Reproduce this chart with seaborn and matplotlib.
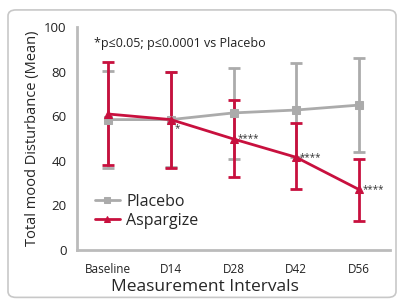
import matplotlib
matplotlib.use("Agg")
import matplotlib.pyplot as plt
import seaborn as sns
import pandas as pd
from matplotlib.patches import FancyBboxPatch

# values
intervals = ["Baseline", "D14", "D28", "D42", "D56"]
placebo_mean = [58.5, 58.5, 61.5, 62.8, 65.0]
placebo_upper = [80.4, 80.0, 81.6, 84.0, 86.2]
placebo_lower = [36.8, 37.2, 41.0, 41.5, 44.0]
asp_mean = [61.0, 58.5, 49.8, 41.6, 27.2]
asp_upper = [84.3, 80.0, 67.2, 56.8, 40.8]
asp_lower = [38.3, 37.0, 32.6, 27.4, 13.0]
asp_marks = ["*", "****", "****", "****"]

GRAY = "#ababab"
RED = "#c8103e"

sns.set_style("white")
plt.rcParams["font.family"] = ["Open Sans", "DejaVu Sans"]

df = pd.DataFrame({
    "interval": intervals * 2,
    "mean": placebo_mean + asp_mean,
    "upper": placebo_upper + asp_upper,
    "lower": placebo_lower + asp_lower,
    "group": ["Placebo"] * 5 + ["Aspargize"] * 5,
})
df["x"] = list(range(5)) * 2

fig = plt.figure(figsize=(4.0, 3.01), dpi=100)
ax = fig.add_axes([0.1925, 0.1694, 0.7825, 0.7406])

# rounded frame around the whole figure
frame = FancyBboxPatch((0.02, 0.012), 0.97, 0.955, transform=fig.transFigure,
                       boxstyle="round,pad=0,rounding_size=0.02",
                       facecolor="none", edgecolor="#c8c8c8", linewidth=1.2)
fig.patches.append(frame)

styles = {"Placebo": (GRAY, "s", 6), "Aspargize": (RED, "^", 6)}
for name in ["Placebo", "Aspargize"]:
    sub = df[df["group"] == name]
    color, marker, ms = styles[name]
    ax.errorbar(sub["x"], sub["mean"],
                yerr=[sub["mean"] - sub["lower"], sub["upper"] - sub["mean"]],
                fmt="none", ecolor=color, elinewidth=2, capsize=4, capthick=2,
                zorder=2)
    sns.lineplot(data=sub, x="x", y="mean", color=color, marker=marker,
                 markersize=ms, markeredgecolor=color, linewidth=2,
                 label=name, ax=ax, zorder=3)

# significance stars next to the Aspargize points
for i, m in enumerate(asp_marks, start=1):
    dy = -4 if i == 1 else 0
    ax.text(i + 0.06, asp_mean[i] + dy, m, fontsize=7, color="#333333",
            va="center", ha="left")

ax.text(0.055, 0.925, "*p\u22640.05; p\u22640.0001 vs Placebo", transform=ax.transAxes,
        fontsize=9, color="#222222", va="center")

ax.set_xlim(-0.5, 4.5)
ax.set_ylim(0, 100)
ax.set_xticks(range(5))
ax.set_xticklabels(intervals, fontsize=8.5)
ax.set_yticks(range(0, 101, 20))
ax.tick_params(axis="y", labelsize=9.5, colors="#222222", length=4, width=2,
               color="#bbbbbb", direction="out")
ax.tick_params(axis="x", colors="#222222", length=4, width=2, color="#bbbbbb",
               direction="out", pad=5)
ax.set_xlabel("Measurement Intervals", fontsize=12.5)
ax.xaxis.set_label_coords(0.41, -0.128)
ax.set_ylabel("Total mood Disturbance (Mean)", fontsize=10.5, labelpad=3)

for side in ["top", "right"]:
    ax.spines[side].set_visible(False)
for side in ["left", "bottom"]:
    ax.spines[side].set_color("#bbbbbb")
    ax.spines[side].set_linewidth(2)

ax.legend(loc="lower left", bbox_to_anchor=(0.01, 0.03), frameon=False,
          fontsize=11.5, handlelength=1.6, handletextpad=0.4, labelspacing=0.2,
          markerscale=0.7)

fig.savefig("out.png", dpi=100)
